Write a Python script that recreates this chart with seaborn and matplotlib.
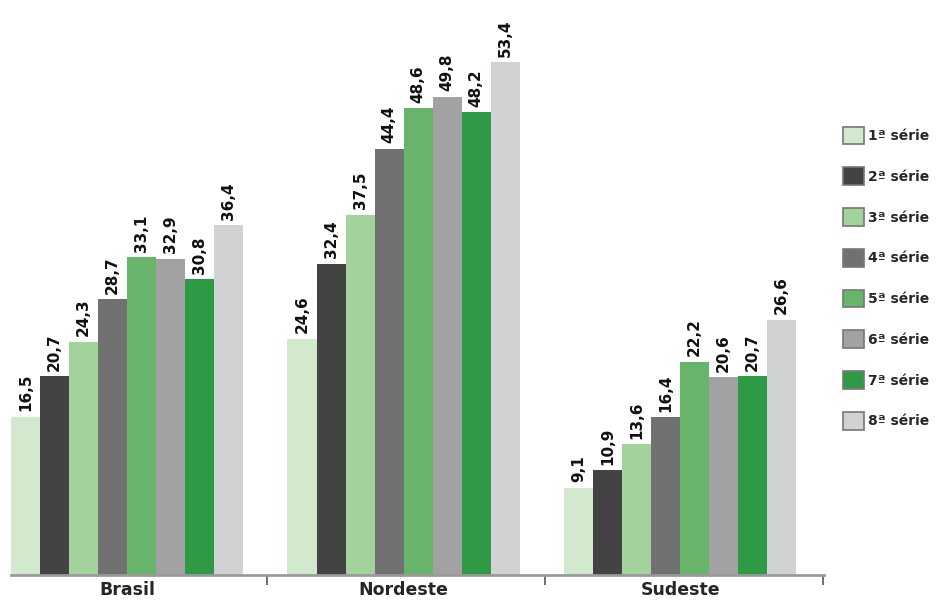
import seaborn as sns
import pandas as pd
import matplotlib.pyplot as plt
from matplotlib.patches import Patch

regions = ["Brasil", "Nordeste", "Sudeste"]
series = ["1ª série", "2ª série", "3ª série", "4ª série",
          "5ª série", "6ª série", "7ª série", "8ª série"]
brasil = [16.5, 20.7, 24.3, 28.7, 33.1, 32.9, 30.8, 36.4]
nordeste = [24.6, 32.4, 37.5, 44.4, 48.6, 49.8, 48.2, 53.4]
sudeste = [9.1, 10.9, 13.6, 16.4, 22.2, 20.6, 20.7, 26.6]
colors = ["#d2e9cd", "#434343", "#a2d39b", "#717171",
          "#69b46b", "#a2a2a2", "#2f9a46", "#d1d2d4"]

rows = []
for reg, vals in zip(regions, [brasil, nordeste, sudeste]):
    for s, v in zip(series, vals):
        rows.append({"regiao": reg, "serie": s, "valor": v})
df = pd.DataFrame(rows)

sns.set_style("white")
plt.rcParams["font.family"] = ["DejaVu Sans"]

fig = plt.figure(figsize=(9.46, 6.05), dpi=100)
ax = fig.add_axes([0.0116, 0.0496, 0.8593, 0.889])

sns.barplot(data=df, x="regiao", y="valor", hue="serie", palette=colors,
            width=0.84, gap=0, saturation=1, edgecolor="none",
            linewidth=0, legend=False, ax=ax)

# rotated value labels, decimal comma
for cont in ax.containers:
    labels = [f"{v:.1f}".replace(".", ",") for v in cont.datavalues]
    ax.bar_label(cont, labels=labels, rotation=90, padding=4,
                 fontsize=11, fontweight="bold", color="#111111")

ax.set_xlim(-0.42, 2.52)
ax.set_ylim(0, 56)
ax.set_xlabel("")
ax.set_ylabel("")
ax.set_yticks([])
for side in ["top", "right", "left"]:
    ax.spines[side].set_visible(False)
ax.spines["bottom"].set_color("#9a9a9a")
ax.spines["bottom"].set_linewidth(2)

ax.set_xticks([0, 1, 2])
ax.set_xticklabels(regions, fontsize=12.5, fontweight="bold")
ax.tick_params(axis="x", which="major", length=0, pad=4)
ax.set_xticks([0.506, 1.512, 2.517], minor=True)
ax.tick_params(axis="x", which="minor", bottom=True, length=7, width=1.2,
               color="#555555", direction="out")

handles = [Patch(facecolor=c, edgecolor="#777777", linewidth=1.2) for c in colors]
fig.legend(handles, series, loc="upper left", bbox_to_anchor=(0.885, 0.80),
           frameon=False, prop={"weight": "bold", "size": 10},
           handlelength=1.5, handleheight=1.6, handletextpad=0.3,
           labelspacing=1.65, borderaxespad=0)

fig.savefig("out.png", dpi=100)
